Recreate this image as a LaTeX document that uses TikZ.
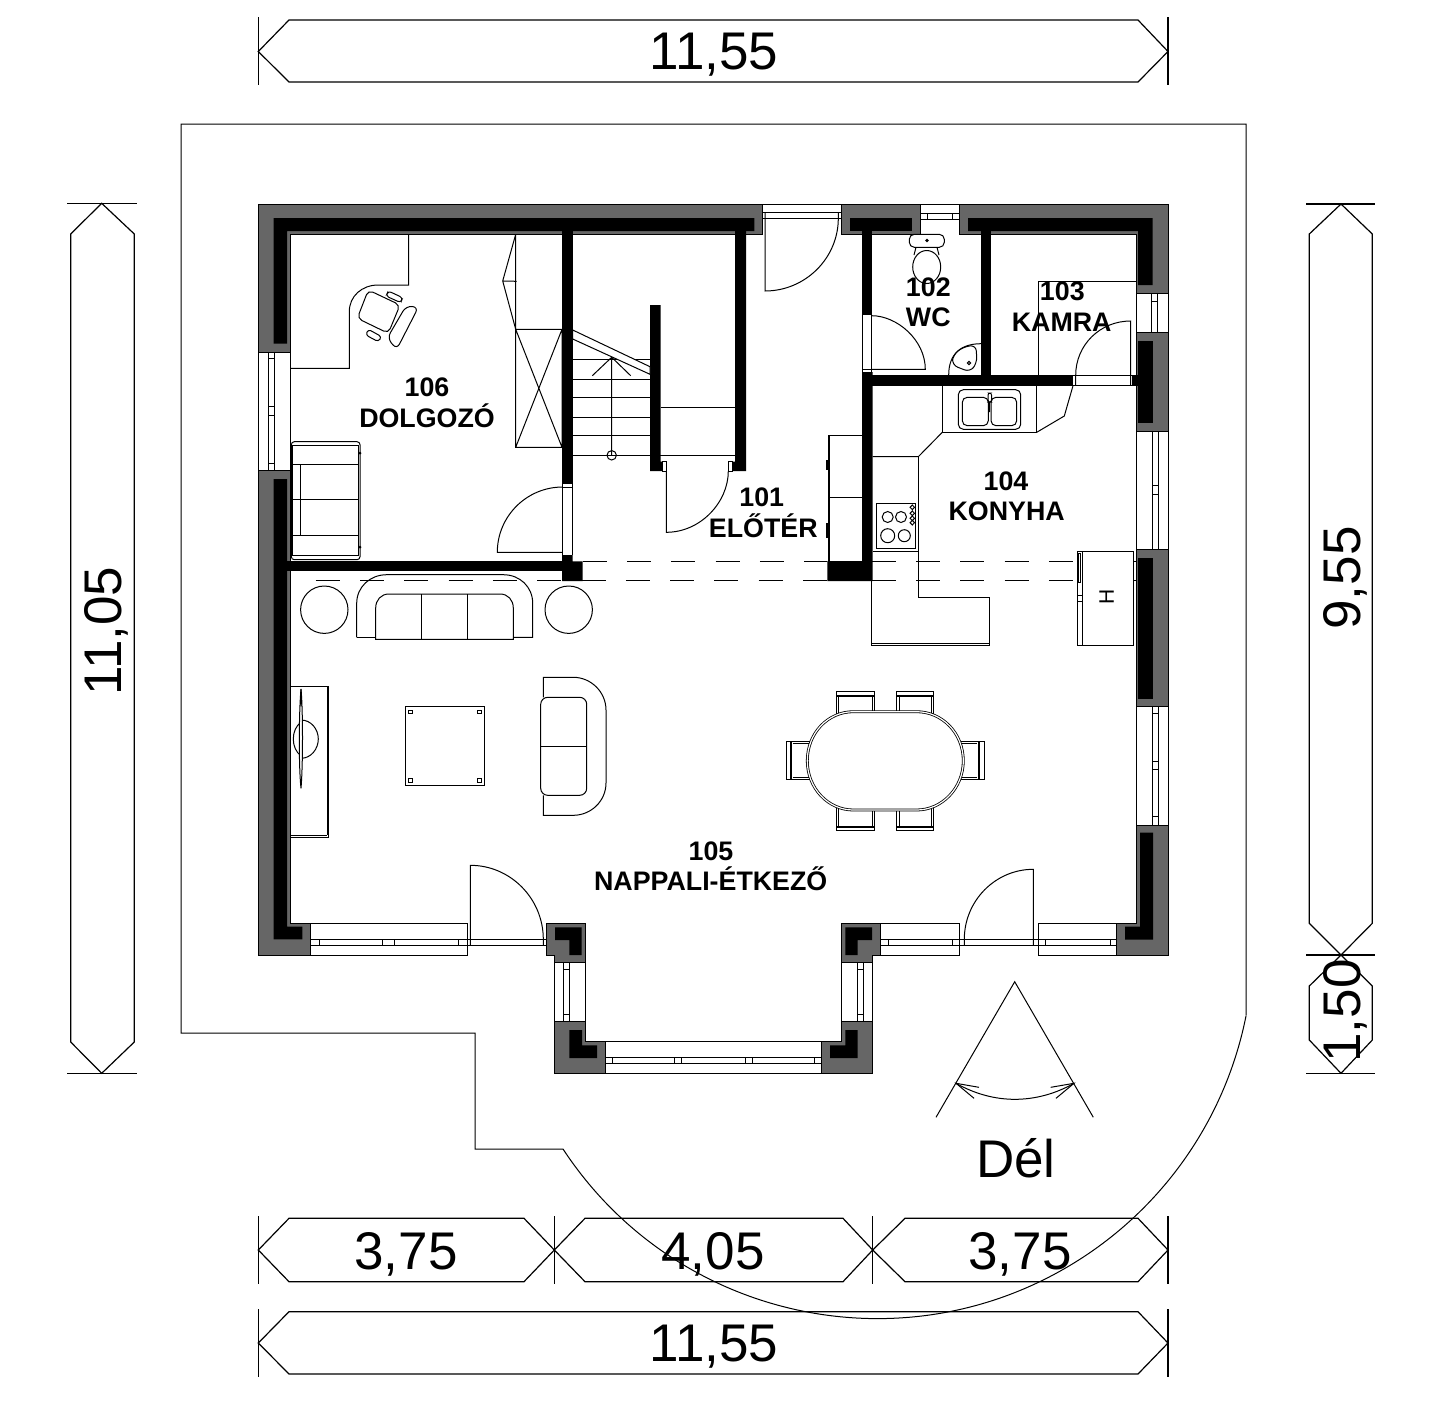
\documentclass[tikz,border=0pt]{standalone}
\usepackage{fontspec}
\setmainfont{Liberation Sans}
\definecolor{wallgrey}{HTML}{666666}
\tikzset{
  wallgray/.style={draw=black,fill=wallgrey,line width=0.5pt},
  wallblack/.style={fill=black,draw=none},
  plainbox/.style={draw=black,fill=white,line width=0.5pt},
  dimline/.style={line width=0.6pt},
  dashline/.style={line width=0.5pt,dash pattern=on 12pt off 10.15pt},
  dimtxt/.style={font=\fontsize{26.5}{30}\selectfont,inner sep=0pt},
  roomtxt/.style={font=\fontsize{13.4}{15}\selectfont\bfseries,anchor=base,inner sep=0pt},
}
\begin{document}
\begin{tikzpicture}[x=0.5pt,y=0.5pt,yscale=-1,xscale=1,line width=0.5pt]
\useasboundingbox (0,0) rectangle (1446,1419);

%Shape: outline of the terrace
\draw (1246,1015) -- (1246,124) -- (181,124) -- (181,1033) -- (475,1033) -- (475,1149) -- (563,1149) arc [start angle=146.7,end angle=11.2,radius=376] ;

%Shape: dashed lines
\draw [dashline] (315.7,580.7) -- (827,580.7) ;
\draw [dashline] (582.7,561) -- (827,561) ;
\draw [dashline] (871.7,561) -- (1092.7,561) ;
\draw [dashline] (871.7,580.7) -- (1092.7,580.7) ;
\draw (1092.7,561) -- (1136.7,561) ;
\draw (1092.7,580.7) -- (1136.7,580.7) ;

%Shape: outer walls
\draw [wallgray] (258,204) -- (762.7,204) -- (762.7,234.3) -- (290.3,234.3) -- (290.3,352) -- (258,352) -- cycle ;
\draw [wallgray] (841.7,204) -- (920.7,204) -- (920.7,234.3) -- (841.7,234.3) -- cycle ;
\draw [wallgray] (959.3,204) -- (1168.5,204) -- (1168.5,293.7) -- (1136.7,293.7) -- (1136.7,234.3) -- (959.3,234.3) -- cycle ;
\draw [wallgray] (1136.7,332.3) -- (1168.5,332.3) -- (1168.5,431) -- (1136.7,431) -- cycle ;
\draw [wallgray] (1136.7,549) -- (1168.5,549) -- (1168.5,706) -- (1136.7,706) -- cycle ;
\draw [wallgray] (1136.7,825.3) -- (1168.5,825.3) -- (1168.5,955.7) -- (1116.7,955.7) -- (1116.7,923.3) -- (1136.7,923.3) -- cycle ;
\draw [wallgray] (258,470) -- (290.3,470) -- (290.3,923.3) -- (310.7,923.3) -- (310.7,955.7) -- (258,955.7) -- cycle ;
%Shape: piers of the bay
\draw [wallgray] (546.3,923.3) -- (585.7,923.3) -- (585.7,962.7) -- (554.3,962.7) -- (554.3,955.7) -- (546.3,955.7) -- cycle ;
\draw [wallgray] (841.3,923.3) -- (880.7,923.3) -- (880.7,955.7) -- (872.7,955.7) -- (872.7,962.7) -- (841.3,962.7) -- cycle ;
\draw [wallgray] (554.3,1021.3) -- (585.7,1021.3) -- (585.7,1041.3) -- (605.7,1041.3) -- (605.7,1073.3) -- (554.3,1073.3) -- cycle ;
\draw [wallgray] (841.3,1021.3) -- (872.7,1021.3) -- (872.7,1073.3) -- (821.3,1073.3) -- (821.3,1041.3) -- (841.3,1041.3) -- cycle ;

%Shape: black core of the walls
\fill [wallblack] (273.7,218) -- (754.3,218) -- (754.3,231) -- (287,231) -- (287,343.7) -- (273.7,343.7) -- cycle ;
\fill [wallblack] (850,218) -- (912.3,218) -- (912.3,231) -- (850,231) -- cycle ;
\fill [wallblack] (968,218) -- (1152.7,218) -- (1152.7,285) -- (1138,285) -- (1138,231) -- (968,231) -- cycle ;
\fill [wallblack] (1138,341) rectangle (1152.7,423) ;
\fill [wallblack] (1138,557.7) rectangle (1152.7,699.3) ;
\fill [wallblack] (1140,832.7) -- (1153,832.7) -- (1153,939.7) -- (1125,939.7) -- (1125,926.7) -- (1140,926.7) -- cycle ;
\fill [wallblack] (273.7,479) -- (287,479) -- (287,926.7) -- (302.3,926.7) -- (302.3,939.3) -- (273.7,939.3) -- cycle ;
\fill [wallblack] (555,927.3) -- (581.7,927.3) -- (581.7,955) -- (569.3,955) -- (569.3,940) -- (555,940) -- cycle ;
\fill [wallblack] (845.3,927.3) -- (872,927.3) -- (872,940) -- (857.7,940) -- (857.7,955) -- (845.3,955) -- cycle ;
\fill [wallblack] (569.3,1030) -- (582,1030) -- (582,1045.3) -- (597,1045.3) -- (597,1058) -- (569.3,1058) -- cycle ;
\fill [wallblack] (845.3,1030) -- (857.7,1030) -- (857.7,1058) -- (830,1058) -- (830,1045.3) -- (845.3,1045.3) -- cycle ;

%Shape: inner walls
\fill [wallblack] (562,231) rectangle (572.7,484.3) ;
\fill [wallblack] (287,561) rectangle (562,571) ;
\fill [wallblack] (562,555) -- (572.7,555) -- (572.7,561.3) -- (582.7,561.3) -- (582.7,581) -- (562,581) -- cycle ;
\fill [wallblack] (735,231) -- (746,231) -- (746,471) -- (732.7,471) -- (732.7,461.7) -- (735,461.7) -- cycle ;
\fill [wallblack] (650,305) -- (660.7,305) -- (660.7,461.7) -- (662.7,461.7) -- (662.7,471) -- (650,471) -- cycle ;
\fill [wallblack] (862,231) rectangle (872,314) ;
\fill [wallblack] (862,372) -- (872.7,372) -- (872.7,581) -- (827.3,581) -- (827.3,561) -- (862,561) -- cycle ;
\fill [wallblack] (981,231) rectangle (991,375) ;
\fill [wallblack] (862,375) rectangle (1073,385.7) ;
\fill [wallblack] (1131.7,375) rectangle (1138,385.7) ;

%Shape: windows, top and right
\draw (920.7,204) -- (959.3,204) ;
\draw (920.7,213.3) -- (959.3,213.3) (920.7,219) -- (959.3,219) (927.3,213.3) -- (927.3,219) (952.7,213.3) -- (952.7,219) ;
\draw (1136.7,293.7) -- (1136.7,332.3) (1168.5,293.7) -- (1168.5,332.3) (1151.7,293.7) -- (1151.7,332.3) (1157.3,293.7) -- (1157.3,332.3) (1151.7,301) -- (1157.3,301) ;
\draw (1136.7,431) -- (1136.7,549) (1168.5,431) -- (1168.5,549) (1152.7,431) -- (1152.7,549) (1158.3,431) -- (1158.3,549) (1152.7,485) -- (1158.3,485) (1152.7,494.3) -- (1158.3,494.3) ;
\draw (1136.7,706) -- (1136.7,825.3) (1168.5,706) -- (1168.5,825.3) (1152.7,706) -- (1152.7,825.3) (1158.3,706) -- (1158.3,825.3) (1152.7,713.3) -- (1158.3,713.3) (1152.7,761) -- (1158.3,761) (1152.7,769) -- (1158.3,769) (1152.7,816.7) -- (1158.3,816.7) ;
%Shape: window, left
\draw (258,352) -- (258,470) (290.3,352) -- (290.3,470) (268.3,352) -- (268.3,470) (274.3,352) -- (274.3,470) (268.3,358.3) -- (274.3,358.3) (268.3,406.7) -- (274.3,406.7) (268.3,415) -- (274.3,415) (268.3,463.3) -- (274.3,463.3) ;
%Shape: windows, bottom
\draw (310.7,923.3) -- (467.3,923.3) -- (467.3,955.7) -- (310.7,955.7) ;
\draw (310.7,939.3) -- (546.3,939.3) (310.7,945.3) -- (546.3,945.3) (319.7,939.3) -- (319.7,945.3) (382.3,939.3) -- (382.3,945.3) (394.3,939.3) -- (394.3,945.3) (458.3,939.3) -- (458.3,945.3) ;
\draw (880.7,923.3) -- (959.3,923.3) -- (959.3,955.7) -- (880.7,955.7) ;
\draw (1116.7,923.3) -- (1038.3,923.3) -- (1038.3,955.7) -- (1116.7,955.7) ;
\draw (880.7,939.3) -- (1116.7,939.3) (880.7,945.3) -- (1116.7,945.3) (888.3,939.3) -- (888.3,945.3) (952.3,939.3) -- (952.3,945.3) (1045.7,939.3) -- (1045.7,945.3) (1110.3,939.3) -- (1110.3,945.3) ;
%Shape: windows of the bay
\draw (554.3,962.7) -- (554.3,1021.3) (585.7,962.7) -- (585.7,1021.3) (563.3,962.7) -- (563.3,1021.3) (569.3,962.7) -- (569.3,1021.3) (563.3,969.3) -- (569.3,969.3) (563.3,1014) -- (569.3,1014) ;
\draw (841.3,962.7) -- (841.3,1021.3) (872.7,962.7) -- (872.7,1021.3) (857.7,962.7) -- (857.7,1021.3) (863.3,962.7) -- (863.3,1021.3) (857.7,969.3) -- (863.3,969.3) (857.7,1014) -- (863.3,1014) ;
\draw (605.7,1041.3) -- (821.3,1041.3) (605.7,1073.3) -- (821.3,1073.3) (605.7,1057.3) -- (821.3,1057.3) (605.7,1063.3) -- (821.3,1063.3) ;
\draw (612.3,1057.3) -- (612.3,1063.3) (674.3,1057.3) -- (674.3,1063.3) (681.7,1057.3) -- (681.7,1063.3) (745.7,1057.3) -- (745.7,1063.3) (752.7,1057.3) -- (752.7,1063.3) (814.3,1057.3) -- (814.3,1063.3) ;

%Shape: doors
\draw (470.3,945.3) -- (470.3,865.3) .. controls (510.5,865.3) and (543.3,898.6) .. (543.3,939.3) -- (543.3,945.3) ;
\draw (1033.3,945.3) -- (1033.3,869.3) .. controls (995.3,869.3) and (964.3,900.8) .. (964.3,939.3) -- (964.3,945.3) ;
\draw (762.7,204) -- (841.7,204) (762.7,212.3) -- (841.7,212.3) (762.7,218.3) -- (841.7,218.3) ;
\draw (838.3,212.3) -- (838.3,218.3) .. controls (838.3,258.2) and (805.3,291) .. (765,291) -- (765,212.3) ;
\draw (562.7,484.3) -- (562.7,555) (572.7,484.3) -- (572.7,555) (562.7,487) -- (572.7,487) ;
\draw (562.7,487) .. controls (526.7,487) and (497.3,516.2) .. (497.3,552.3) -- (562.7,552.3) ;
\draw (662.7,461.7) rectangle (666.3,471) (728.3,461.7) rectangle (732.7,471) ;
\draw (666.3,471) -- (666.3,532.3) .. controls (700.4,532.3) and (728.3,502.4) .. (728.3,471) ;
\draw (862.7,314) -- (862.7,375) (871.7,314) -- (871.7,375) (862.7,314) -- (871.7,314) (862.7,369.3) -- (871.7,369.3) ;
\draw (871.7,369.3) -- (925.3,369.3) .. controls (925.3,340) and (897,315.7) .. (871.7,315.7) ;
\draw (1038.3,375) -- (1038.3,281.3) -- (1136.7,281.3) ;
\draw (1075.7,385.7) -- (1075.7,375.3) .. controls (1075.7,345) and (1100,321) .. (1130.7,321) -- (1130.7,385.7) ;
\draw (1073,375.3) -- (1131.7,375.3) (1073,385.7) -- (1131.7,385.7) ;

%Shape: stairs
\draw (572.7,359.3) -- (650,359.3) (572.7,379) -- (650,379) (572.7,397.3) -- (650,397.3) (572.7,417.3) -- (650,417.3) (572.7,435.3) -- (650,435.3) (572.7,455.3) -- (735,455.3) ;
\draw (660.7,407) -- (735,407) ;
\draw [fill=white] (572.7,330) -- (650,366.7) -- (650,374.3) -- (572.7,339) -- cycle ;
\draw (611.7,455.3) -- (611.7,357.3) (592.3,375.7) -- (611.7,357.3) -- (630.7,375.7) ;
\draw (611.7,455.3) circle [radius=4.7] ;

%Shape: closet and desk of the study
\draw (515.7,234.3) -- (515.7,447.3) -- (562,447.3) -- (562,329.3) -- (515.7,329.3) -- (562,447.3) (515.7,447.3) -- (562,329.3) ;
\draw (515.7,234.3) -- (502.7,281) -- (515.7,329.3) (502.7,281) -- (516.7,281.3) ;
\draw (408.7,234.3) -- (408.7,285) -- (378.3,285) .. controls (362,285) and (349.3,296) .. (349.3,311.7) -- (349.3,368.3) -- (290.3,368.3) ;
%Shape: office chair
\draw [rounded corners=2.5pt,fill=white] (368.3,290) -- (400,305) -- (388.3,333.3) -- (357.3,318.3) -- cycle ;
\draw [rounded corners=1.5pt,fill=white] (388.3,291) -- (402.7,297.7) -- (400.7,302.7) -- (386,296) -- cycle ;
\draw [rounded corners=1.5pt,fill=white] (368.3,329.3) -- (381.7,336.7) -- (378.3,341.7) -- (365.7,335) -- cycle ;
\draw [rounded corners=3pt,fill=white] (406,306) -- (418.5,307) -- (396.7,349.5) -- (387.3,338) -- cycle ;
%Shape: bed of the study
\draw [rounded corners=1.5pt] (291.3,441.7) rectangle (360,559.7) ;
\draw (292.7,445.7) rectangle (358.3,555.7) ;
\draw (292.7,464) -- (358.3,464) (292.7,499.3) -- (358.3,499.3) (292.7,535) -- (358.3,535) (300.7,464) -- (300.7,535) ;
\fill (360,453) circle [radius=1.5] (360,547) circle [radius=1.5] ;

%Shape: hall cupboard
\draw (828.3,561) -- (828.3,435) -- (862,435) (829.8,561) -- (829.8,435) (828.3,497) -- (862,497) ;
\draw [line width=1pt] (826.7,460) -- (826.7,470) (826.7,523) -- (826.7,538) ;

%Shape: toilet and basin
\draw [rounded corners=2.5pt,fill=white] (909.3,234.3) -- (944.3,234.3) -- (944.3,247.3) -- (909.3,247.3) -- cycle ;
\draw (916,247.3) -- (914,255) (937,247.3) -- (939,255) ;
\draw (926.7,267) ellipse [x radius=14,y radius=16.5] ;
\fill (927,240.5) circle [radius=1.8] ;
\draw (981,343.7) .. controls (962,343.7) and (948.7,353) .. (948.7,375) ;
\draw [rounded corners=3pt] (963,347) -- (976,345) -- (977,363) -- (970,372) -- (952,365) -- (953,355) -- cycle ;
\draw (969,363) circle [radius=1.6] ;

%Shape: kitchen units
\draw (942.3,385.7) -- (942.3,432.3) -- (1036.7,432.3) -- (1036.7,385.7) ;
\draw (942.3,432.3) -- (918.3,456.7) -- (872.7,456.7) ;
\draw (918.3,456.7) -- (918.3,597.3) -- (989.3,597.3) -- (989.3,645.5) -- (871.7,645.5) -- (871.7,581) ;
\draw (871.7,643.8) -- (989.3,643.8) ;
\draw (872.7,551) -- (918.3,551) ;
\draw (1036.7,432.3) -- (1064.3,416) -- (1073,385.7) ;
%Shape: kitchen sink
\draw [rounded corners=2.5pt] (958.3,389.7) rectangle (1020.7,429.3) ;
\draw [rounded corners=2.5pt] (962.3,397.3) rectangle (988.3,425.7) ;
\draw [rounded corners=2.5pt] (991,397.3) rectangle (1016.7,425.7) ;
\draw [rounded corners=1pt] (988,393) rectangle (991.5,402) (989.7,402) -- (989.7,412) ;
%Shape: cooker
\draw (876.7,503.3) rectangle (915.7,548.3) ;
\draw (887.7,517) circle [radius=5.5] (901,517) circle [radius=5.5] (887.7,535.7) circle [radius=7] (904.3,535.7) circle [radius=6] ;
\draw (912.3,505) -- (914.5,507.3) -- (912.3,509.6) -- (910.1,507.3) -- cycle (912.3,511) -- (914.5,513.3) -- (912.3,515.6) -- (910.1,513.3) -- cycle (912.3,516) -- (914.5,518.3) -- (912.3,520.6) -- (910.1,518.3) -- cycle (912.3,520.4) -- (914.5,522.7) -- (912.3,525) -- (910.1,522.7) -- cycle ;
%Shape: fridge
\draw [fill=white] (1077.7,551) rectangle (1133.3,645.7) ;
\draw (1082.3,551) -- (1082.3,645.7) (1077.7,595) -- (1082.3,595) (1077.7,601.7) -- (1082.3,601.7) ;
\draw (1078.5,553) rectangle (1080.7,582) ;

%Shape: sofa and round tables
\draw (324.3,609.7) circle [radius=23.7] (568.7,609.7) circle [radius=23.7] ;
\draw (356.7,637.3) -- (356.7,603.3) .. controls (356.7,587) and (370,574.7) .. (386.7,574.7) -- (503.3,574.7) .. controls (520,574.7) and (532.7,587) .. (532.7,603.3) -- (532.7,637.3) -- (513.3,637.3) ;
\draw (356.7,637.3) -- (375.7,637.3) ;
\draw (375.7,639.3) -- (375.7,608) .. controls (375.7,600) and (381,594) .. (389,594) -- (500,594) .. controls (508,594) and (513.3,600) .. (513.3,608) -- (513.3,639.3) -- cycle ;
\draw (421.3,594) -- (421.3,639.3) (467.3,594) -- (467.3,639.3) ;
%Shape: coffee table
\draw (405.3,706.3) rectangle (484.7,785.7) ;
\draw (408.3,710) rectangle (412.3,713.4) (477,710) rectangle (481,713.4) (408.3,778.6) rectangle (412.3,782) (477,778.6) rectangle (481,782) ;
%Shape: two seat sofa
\draw (543.3,697.3) -- (543.3,677.3) -- (573.3,677.3) .. controls (591,677.3) and (606,692) .. (606,710) -- (606,783) .. controls (606,801) and (591,815.3) .. (573.3,815.3) -- (543.3,815.3) -- (543.3,795.3) ;
\draw [rounded corners=3.5pt] (540.7,697.3) rectangle (586.7,795.3) ;
\draw (540.7,746.3) -- (586.7,746.3) ;
%Shape: tv stand
\draw (290.3,686.7) -- (328.3,686.7) -- (328.3,837.3) -- (290.3,837.3) (290.3,835.3) -- (327.3,835.3) (327.3,686.7) -- (327.3,835.3) ;
\draw (301,722) .. controls (296,726) and (293.3,732) .. (293.3,739) .. controls (293.3,746) and (296,752) .. (301,756) ;
\draw (301,720) .. controls (311,720) and (318.3,729) .. (318.3,739) .. controls (318.3,749) and (311,758.3) .. (301,758.3) ;
\draw [fill=white] (301,689) .. controls (299,710) and (298.5,765) .. (301,788.3) .. controls (303,765) and (303,710) .. (301,689) ;
\fill (301,698) ellipse [x radius=1,y radius=9] ;

%Shape: dining chairs
\draw (836.3,715) -- (836.3,691.3) -- (874.3,691.3) -- (874.3,715) (838.5,696) -- (838.5,715) (872,696) -- (872,715) ;
\fill (836.3,694.5) rectangle (874.3,696.5) ;
\draw (896.7,715) -- (896.7,691.3) -- (933.7,691.3) -- (933.7,715) (899,696) -- (899,715) (931.5,696) -- (931.5,715) ;
\fill (896.7,694.5) rectangle (933.7,696.5) ;
\draw (836.3,808) -- (836.3,830.7) -- (874.3,830.7) -- (874.3,808) (838.5,808) -- (838.5,826) (872,808) -- (872,826) ;
\fill (836.3,825.5) rectangle (874.3,827.5) ;
\draw (896.7,808) -- (896.7,830.7) -- (933.7,830.7) -- (933.7,808) (899,808) -- (899,826) (931.5,808) -- (931.5,826) ;
\fill (896.7,825.5) rectangle (933.7,827.5) ;
\draw (810,741.3) -- (786.3,741.3) -- (786.3,779.3) -- (810,779.3) (793,743.5) -- (810,743.5) (793,777) -- (810,777) ;
\fill (789.5,741.3) rectangle (791.5,779.3) ;
\draw (960,741.3) -- (984.7,741.3) -- (984.7,779.3) -- (960,779.3) (960,743.5) -- (977,743.5) (960,777) -- (977,777) ;
\fill (977.5,741.3) rectangle (979.5,779.3) ;
%Shape: dining table
\draw [double,double distance=0.6pt,line width=0.4pt,fill=white] (853.3,711.7) -- (916.7,711.7) .. controls (942,711.7) and (963.3,733) .. (963.3,760.8) .. controls (963.3,788) and (942,810) .. (916.7,810) -- (853.3,810) .. controls (828,810) and (807.3,788) .. (807.3,760.8) .. controls (807.3,733) and (828,711.7) .. (853.3,711.7) -- cycle ;

%Shape: south arrow
\draw (936,1117.3) -- (1014.7,981.7) -- (1093.3,1117.3) ;
\draw (956,1083.3) .. controls (975,1094) and (995,1099.3) .. (1014.7,1099.3) .. controls (1035,1099.3) and (1055,1094) .. (1074,1083.3) ;
\draw (979,1087.3) -- (956,1083.3) -- (974,1098.3) (1050.7,1087.3) -- (1074,1083.3) -- (1056,1098.3) ;

%Shape: dimension, top
\draw [dimline] (258.3,17) -- (258.3,85) (1168,17) -- (1168,85) ;
\draw [dimline] (258.3,51.5) -- (289,20) -- (1138,20) -- (1168,51.5) -- (1138,82) -- (289,82) -- cycle ;
%Shape: dimension, left
\draw [dimline] (67.3,203.3) -- (136.7,203.3) (67.3,1073.3) -- (136.7,1073.3) ;
\draw [dimline] (101.7,203.3) -- (134.3,234) -- (134.3,1042) -- (101.7,1073.3) -- (70.7,1042) -- (70.7,234) -- cycle ;
%Shape: dimensions, right
\draw [dimline] (1306,204) -- (1375,204) (1306,955) -- (1375,955) (1306,1073.3) -- (1375,1073.3) ;
\draw [dimline] (1341,204) -- (1372.3,234) -- (1372.3,923.3) -- (1341,955) -- (1309.3,923.3) -- (1309.3,234) -- cycle ;
\draw [dimline] (1341,955) -- (1372.3,986) -- (1372.3,1040) -- (1341,1073.3) -- (1309.3,1040) -- (1309.3,986) -- cycle ;
%Shape: dimensions, bottom
\draw [dimline] (258.3,1216) -- (258.3,1284) (554.3,1216) -- (554.3,1284) (872.7,1216) -- (872.7,1284) (1168,1216) -- (1168,1284) ;
\draw [dimline] (258.3,1250) -- (289,1218.3) -- (524,1218.3) -- (554.3,1250) -- (524,1281.7) -- (289,1281.7) -- cycle ;
\draw [dimline] (554.3,1250) -- (585,1218.3) -- (843,1218.3) -- (872.7,1250) -- (843,1281.7) -- (585,1281.7) -- cycle ;
\draw [dimline] (872.7,1250) -- (905,1218.3) -- (1138,1218.3) -- (1168,1250) -- (1138,1281.7) -- (905,1281.7) -- cycle ;
\draw [dimline] (258.3,1309) -- (258.3,1377) (1168,1309) -- (1168,1377) ;
\draw [dimline] (258.3,1343) -- (289,1311.7) -- (1138,1311.7) -- (1168,1343) -- (1138,1374) -- (289,1374) -- cycle ;

% Text Node
\draw (714,55) node (dimTop) [dimtxt] {11,55};
% Text Node
\draw (106,631) node (dimLeft) [dimtxt,rotate=90] {11,05};
% Text Node
\draw (1345,578) node (dimRightA) [dimtxt,rotate=90] {9,55};
% Text Node
\draw (1345,1011) node (dimRightB) [dimtxt,rotate=90] {1,50};
% Text Node
\draw (406,1254) node (dimBotA) [dimtxt] {3,75};
% Text Node
\draw (713,1254) node (dimBotB) [dimtxt] {4,05};
% Text Node
\draw (1020,1254) node (dimBotC) [dimtxt] {3,75};
% Text Node
\draw (714,1347) node (dimBottom) [dimtxt] {11,55};
% Text Node
\draw (1016,1177) node (south) [dimtxt,anchor=base] {Dél};
% Text Node
\draw (1106.7,597.3) node (fridgeH) [inner sep=0pt,rotate=90,font=\fontsize{10.5}{12}\selectfont] {H};
% Text Node
\draw (427,396.7) node (numStudy) [roomtxt] {106};
% Text Node
\draw (427,427.3) node (nameStudy) [roomtxt] {DOLGOZÓ};
% Text Node
\draw (761.7,506.7) node (numHall) [roomtxt] {101};
% Text Node
\draw (763.3,537.7) node (nameHall) [roomtxt] {ELŐTÉR};
% Text Node
\draw (928.3,296.7) node (numWc) [roomtxt] {102};
% Text Node
\draw (928.3,326) node (nameWc) [roomtxt] {WC};
% Text Node
\draw (1062.3,300.3) node (numPantry) [roomtxt] {103};
% Text Node
\draw (1061.7,331.7) node (namePantry) [roomtxt] {KAMRA};
% Text Node
\draw (1006,490) node (numKitchen) [roomtxt] {104};
% Text Node
\draw (1006.7,520.7) node (nameKitchen) [roomtxt] {KONYHA};
% Text Node
\draw (711,860) node (numLiving) [roomtxt] {105};
% Text Node
\draw (710.7,890.7) node (nameLiving) [roomtxt] {NAPPALI-ÉTKEZŐ};

\end{tikzpicture}
\end{document}
